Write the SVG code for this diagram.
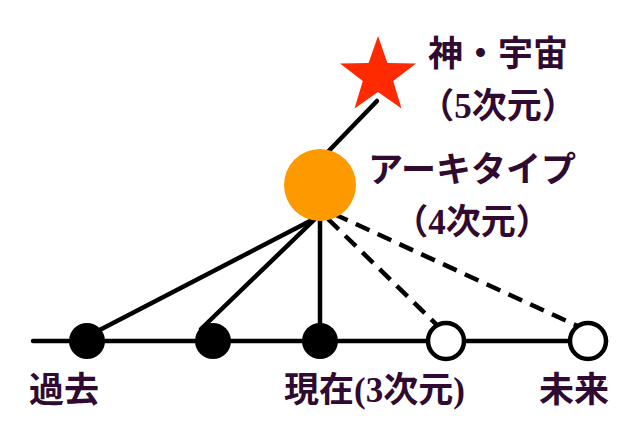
<svg xmlns="http://www.w3.org/2000/svg" width="640" height="427" viewBox="0 0 640 427">
<style>
.ln{stroke:#000;stroke-width:4.5;fill:none;stroke-linecap:round}
.dash{stroke-dasharray:15,9;stroke-linecap:butt}
.t{font-family:"Liberation Serif","Noto Sans CJK JP",serif;font-weight:bold;font-size:35px;fill:#300a30}
</style>
<rect width="640" height="427" fill="#fff"/>
<g id="connectors">
<line class="ln" x1="33" y1="341" x2="606" y2="341"/>
<line class="ln" x1="377" y1="101" x2="320" y2="160"/>
<line class="ln" x1="312" y1="220" x2="90" y2="335"/>
<line class="ln" x1="314" y1="220" x2="201" y2="329"/>
<line class="ln" x1="320" y1="215" x2="320" y2="341"/>
<line class="ln dash" x1="328" y1="219" x2="440" y2="328"/>
<line class="ln dash" x1="334" y1="214" x2="584" y2="329"/>
</g>
<g id="star"><polygon points="378,36 387.4,63 416,63.6 393.2,80.9 401.5,108.4 378,92 354.5,108.4 362.8,80.9 340,63.6 368.6,63" fill="#ff2a00"/></g>
<g id="archetype"><circle cx="320" cy="185" r="36" fill="#ff9900"/></g>
<g id="past"><circle cx="87" cy="341" r="18" fill="#000"/></g>
<g id="past2"><circle cx="213" cy="341" r="18" fill="#000"/></g>
<g id="present"><circle cx="320" cy="341" r="18" fill="#000"/></g>
<g id="future1"><circle cx="446" cy="341" r="18" fill="#fff" stroke="#000" stroke-width="4.5"/></g>
<g id="future2"><circle cx="588" cy="341" r="18" fill="#fff" stroke="#000" stroke-width="4.5"/></g>
<g id="labels">
<text class="t" x="428" y="66">神・宇宙</text>
<text class="t" x="498" y="118" text-anchor="middle">（5次元）</text>
<text class="t" x="368" y="182">アーキタイプ</text>
<text class="t" x="472" y="234" text-anchor="middle">（4次元）</text>
<text class="t" x="29" y="402">過去</text>
<text class="t" x="284" y="402">現在(3次元)</text>
<text class="t" x="539" y="402">未来</text>
</g>
</svg>
